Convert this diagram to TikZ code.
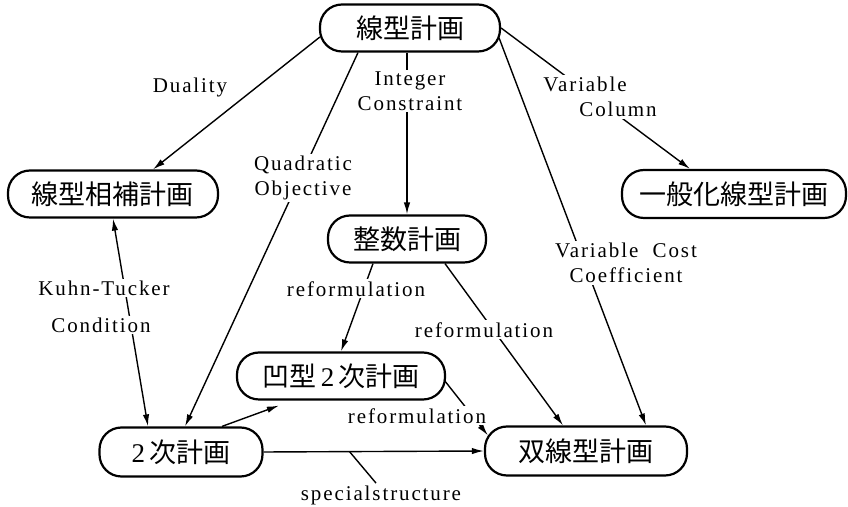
\documentclass[tikz,border=0pt]{standalone}
\usepackage{fontspec}
\setmainfont{Liberation Serif}[LetterSpace=9]
\newfontfamily\cjk{Noto Sans CJK JP}
\usetikzlibrary{arrows.meta,calc}
\begin{document}
\begin{tikzpicture}[x=0.5pt,y=-0.5pt,
  box/.style={draw, line width=1.1pt, rounded corners=11pt, minimum height=23.5pt, inner sep=0pt, font=\fontsize{13.5}{16}\selectfont\cjk},
  conn/.style={line width=0.7pt, -{Latex[length=6pt,width=3.2pt]}},
  both/.style={line width=0.7pt, {Latex[length=6pt,width=3.2pt]}-{Latex[length=6pt,width=3.2pt]}},
  lbl/.style={fill=white, inner sep=1pt, align=center, font=\fontsize{10.5}{12.5}\selectfont},
]
\useasboundingbox (0,0) rectangle (848,507);
% nodes
\node[box, minimum width=90pt] (A) at (410,28) {線型計画};
\node[box, minimum width=105pt] (B) at (113,194) {線型相補計画};
\node[box, minimum width=112pt, minimum height=24pt] (C) at (734,194) {一般化線型計画};
\node[box, minimum width=79pt] (D) at (407,239) {整数計画};
\node[box, minimum width=104pt] (E) at (341,376) {凹型\,{\rmfamily 2}\,次計画};
\node[box, minimum width=81.5pt, minimum height=24.5pt] (F) at (181,452) {{\rmfamily 2}\,次計画};
\node[box, minimum width=101pt, minimum height=24.5pt] (G) at (586,451) {双線型計画};
% connectors
\draw[conn] ([shift={(1,9)}]A.west) -- ([shift={(40,0)}]B.north);
\draw[conn] ([shift={(-52,0)}]A.south) -- ([shift={(4,0)}]F.north);
\draw[conn] (A.south -| D.north) -- (D.north);
\draw[conn] (A.east) -- ([shift={(-44,0)}]C.north);
\draw[conn] ([shift={(-2,10)}]A.east) -- ([shift={(60,0)}]G.north);
\draw[both] (B.south) -- ([shift={(-33,0)}]F.north);
\draw[conn] ([shift={(-34,0)}]D.south) -- (E.north);
\draw[conn] ([shift={(38,0)}]D.south) -- ([shift={(-23,0)}]G.north);
\draw[conn] ([shift={(41,0)}]F.north) -- ([shift={(43,5)}]E.south west);
\draw[conn] ([shift={(-2,4)}]E.east) -- ([shift={(4,10)}]G.north west);
\draw[conn] (F.east) -- coordinate[pos=0.39] (ss) (G.west);
% labels
\node[lbl] (l1) at (190,87) {Duality};
\node[lbl] (l2) at (303,178) {Quadratic\\Objective};
\node[lbl] (l3) at (410,91) {Integer\\Constraint};
\node[lbl, align=left] (l4) at (600,97) {Variable\\\hspace*{18pt}Column};
\node[lbl] (l5) at (626,263) {Variable\ \ Cost\\Coefficient};
\node[lbl] (l6a) at (104,288) {Kuhn-Tucker};
\node[lbl] (l6b) at (101,325) {Condition};
\node[lbl] (l7) at (356,289) {reformulation};
\node[lbl] (l8) at (484,330) {reformulation};
\node[lbl] (l9) at (417,416) {reformulation};
\node[lbl, fill=none] (l10) at (381,495) {specialstructure};
\draw[line width=0.7pt] (ss) -- ([shift={(-5,0)}]l10.north);
\end{tikzpicture}
\end{document}
